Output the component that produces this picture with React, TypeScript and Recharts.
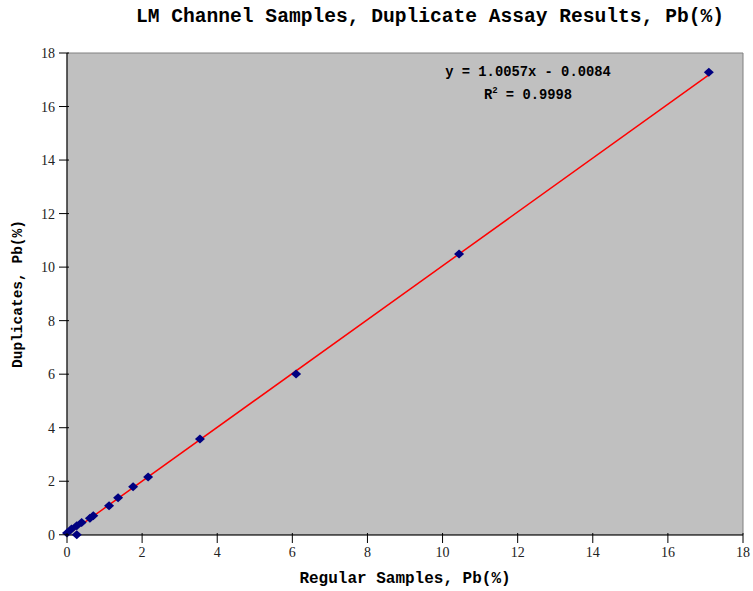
import React from "react";
import {
  ScatterChart,
  Scatter,
  XAxis,
  YAxis,
  ReferenceArea,
} from "recharts";

// regular sample vs duplicate assay, Pb (%)
const regular = [0.0, 0.12, 0.26, 0.26, 0.39, 0.61, 0.7, 1.12, 1.36, 1.76, 2.16, 3.54, 6.1, 10.44, 17.09];
const duplicate = [0.07, 0.22, 0.34, 0.0, 0.46, 0.62, 0.71, 1.08, 1.38, 1.79, 2.16, 3.58, 6.01, 10.49, 17.28];
const ticks = [0, 2, 4, 6, 8, 10, 12, 14, 16, 18];

const slope = 1.0057;
const intercept = -0.0084;

const points = regular.map((x, i) => ({ x, y: duplicate[i] }));
const trendX = [Math.min(...regular), Math.max(...regular)];
const trend = trendX.map((x) => ({ x, y: slope * x + intercept }));

const Diamond = (props: any) => {
  const { cx, cy } = props;
  if (cx == null || cy == null) return null;
  return (
    <polygon
      points={`${cx - 5},${cy} ${cx},${cy - 4.5} ${cx + 5},${cy} ${cx},${cy + 4.5}`}
      fill="#000080"
    />
  );
};

const XTick = (props: any) => {
  const { x, y, payload } = props;
  return (
    <g>
      <line x1={x} x2={x} y1={y - 10} y2={y} stroke="#000" />
      <text x={x} y={y + 14} textAnchor="middle" fontFamily="Liberation Serif" fontSize={14} fill="#222">
        {payload.value}
      </text>
    </g>
  );
};

const YTick = (props: any) => {
  const { x, y, payload } = props;
  return (
    <g>
      <line x1={x} x2={x + 10} y1={y} y2={y} stroke="#000" />
      <text x={x - 4} y={y + 5} textAnchor="end" fontFamily="Liberation Serif" fontSize={14} fill="#222">
        {payload.value}
      </text>
    </g>
  );
};

const mono = "'Liberation Mono', 'DejaVu Sans Mono', monospace";

export default function App() {
  return (
    <div style={{ position: "absolute", left: 0, top: 0, width: 753, height: 591, background: "#fff" }}>
      <div
        style={{
          position: "absolute",
          top: 6,
          left: 0,
          width: 860,
          textAlign: "center",
          fontFamily: mono,
          fontWeight: "bold",
          fontSize: 19.6,
        }}
      >
        LM Channel Samples, Duplicate Assay Results, Pb(%)
      </div>
      <ScatterChart width={753} height={591} margin={{ top: 53, right: 10, bottom: 0, left: 0 }}>
        <ReferenceArea x1={0} x2={18} y1={0} y2={18} fill="#C0C0C0" fillOpacity={1} stroke="#808080" />
        <XAxis
          type="number"
          dataKey="x"
          domain={[0, 18]}
          ticks={ticks}
          height={56}
          stroke="#000"
          tickLine={false}
          tick={<XTick />}
          label={{
            value: "Regular Samples, Pb(%)",
            position: "insideBottom",
            offset: 8,
            style: { fontFamily: mono, fontWeight: "bold", fontSize: 16, fill: "#000" },
          }}
        />
        <YAxis
          type="number"
          dataKey="y"
          domain={[0, 18]}
          ticks={ticks}
          width={67}
          stroke="#000"
          tickLine={false}
          tick={<YTick />}
          label={{
            value: "Duplicates, Pb(%)",
            angle: -90,
            position: "insideLeft",
            offset: 17,
            style: { textAnchor: "middle", fontFamily: mono, fontWeight: "bold", fontSize: 14.5, fill: "#000" },
          }}
        />
        <Scatter
          data={trend}
          line={{ stroke: "#FF0000", strokeWidth: 1.5 }}
          shape={() => null}
          isAnimationActive={false}
        />
        <Scatter data={points} shape={<Diamond />} isAnimationActive={false} />
      </ScatterChart>
      <div
        style={{
          position: "absolute",
          left: 408,
          top: 64,
          width: 240,
          textAlign: "center",
          fontFamily: mono,
          fontWeight: "bold",
          fontSize: 13.8,
          lineHeight: "18px",
        }}
      >
        <div>y = 1.0057x - 0.0084</div>
        <div>
          R<sup style={{ fontSize: 9 }}>2</sup> = 0.9998
        </div>
      </div>
    </div>
  );
}
